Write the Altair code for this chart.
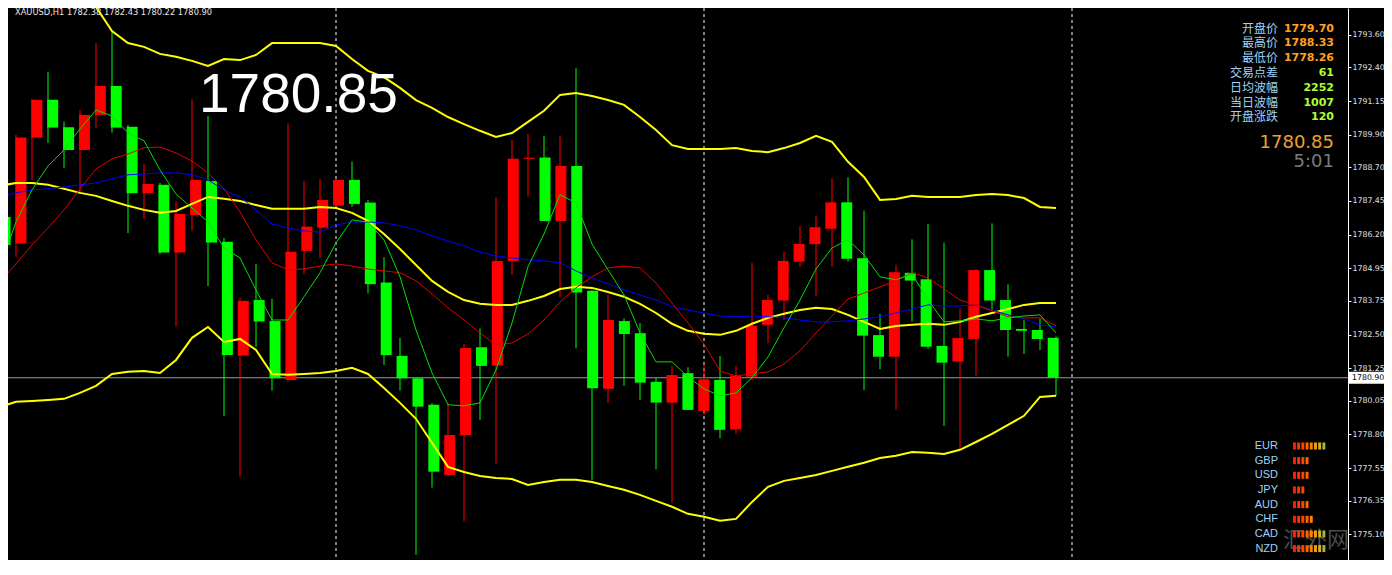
import altair as alt
import pandas as pd

# ---------------- data (XAUUSD H1) ----------------
opens = [1786.86, 1785.87, 1789.80, 1791.20, 1790.18, 1789.34, 1790.64, 1791.71, 1790.20, 1787.74,
         1788.05, 1785.54, 1786.93, 1788.19, 1785.94, 1781.72, 1783.78, 1783.00, 1780.82, 1785.60,
         1786.46, 1787.28, 1788.23, 1787.39, 1784.43, 1781.71, 1780.88, 1779.90, 1777.30, 1778.78,
         1782.03, 1781.35, 1785.23, 1789.01, 1789.06, 1786.71, 1788.75, 1784.12, 1780.49, 1783.00,
         1782.55, 1780.75, 1779.98, 1781.07, 1779.67, 1780.82, 1778.99, 1780.94, 1782.86, 1783.76,
         1785.20, 1785.85, 1786.42, 1787.40, 1785.33, 1782.48, 1781.68, 1784.79, 1784.55, 1782.08,
         1781.50, 1782.34, 1784.89, 1783.78, 1782.71, 1782.67, 1782.38]
highs = [1787.12, 1789.90, 1791.23, 1792.24, 1790.39, 1790.82, 1793.30, 1793.73, 1790.27, 1788.82,
         1788.12, 1787.43, 1791.22, 1790.60, 1786.08, 1783.86, 1785.12, 1783.82, 1790.33, 1788.20,
         1788.26, 1788.26, 1788.91, 1787.49, 1785.37, 1782.37, 1780.90, 1779.96, 1779.98, 1782.15,
         1782.73, 1787.57, 1789.71, 1789.93, 1789.86, 1789.86, 1792.37, 1784.15, 1783.97, 1783.10,
         1782.92, 1780.92, 1781.34, 1781.29, 1781.40, 1781.71, 1781.34, 1785.16, 1783.97, 1785.57,
         1786.53, 1786.90, 1788.29, 1788.33, 1787.09, 1783.26, 1785.08, 1786.03, 1786.60, 1785.91,
         1783.47, 1784.93, 1786.62, 1784.36, 1783.04, 1783.10, 1782.43]
lows = [1785.01, 1785.38, 1788.23, 1789.60, 1788.68, 1787.75, 1790.16, 1789.98, 1786.26, 1786.79,
        1785.49, 1782.80, 1786.35, 1784.30, 1779.48, 1777.23, 1782.05, 1780.42, 1780.75, 1784.75,
        1785.33, 1787.23, 1787.23, 1784.03, 1781.38, 1780.42, 1774.34, 1776.83, 1777.26, 1775.57,
        1779.34, 1777.71, 1784.71, 1787.61, 1786.71, 1783.88, 1781.99, 1777.12, 1779.96, 1780.60,
        1780.08, 1777.51, 1776.27, 1779.71, 1779.52, 1778.66, 1778.82, 1780.82, 1782.18, 1783.04,
        1785.00, 1783.91, 1785.02, 1785.20, 1780.45, 1781.22, 1779.71, 1782.98, 1781.97, 1779.11,
        1778.26, 1780.97, 1783.41, 1781.68, 1781.78, 1781.93, 1780.22]
closes = [1785.82, 1789.80, 1791.20, 1790.17, 1789.34, 1790.64, 1791.71, 1790.17, 1787.74, 1788.08,
          1785.54, 1786.97, 1788.23, 1785.91, 1781.74, 1783.75, 1782.98, 1780.88, 1785.57, 1786.50,
          1787.49, 1788.23, 1787.34, 1784.37, 1781.74, 1780.88, 1779.83, 1777.42, 1778.78, 1782.00,
          1781.34, 1785.23, 1789.01, 1789.05, 1786.71, 1788.75, 1784.06, 1780.51, 1783.04, 1782.52,
          1780.72, 1779.98, 1781.00, 1779.71, 1780.84, 1778.97, 1780.97, 1782.83, 1783.78, 1785.23,
          1785.86, 1786.48, 1787.40, 1785.31, 1782.46, 1781.68, 1784.81, 1784.50, 1782.05, 1781.46,
          1782.37, 1784.89, 1783.76, 1782.67, 1782.64, 1782.34, 1780.90]

bb_upper = [None, None, None, None, 1796.38, 1795.45, 1794.64, 1793.75, 1793.30, 1793.16,
            1792.90, 1792.79, 1792.64, 1792.45, 1792.71, 1792.67, 1792.86, 1793.30, 1793.30, 1793.30,
            1793.30, 1793.19, 1792.71, 1792.27, 1792.04, 1791.64, 1791.19, 1790.90, 1790.56, 1790.30,
            1790.05, 1789.82, 1789.97, 1790.38, 1790.79, 1791.38, 1791.45, 1791.34, 1791.19, 1791.01,
            1790.56, 1790.08, 1789.52, 1789.38, 1789.38, 1789.38, 1789.41, 1789.30, 1789.26, 1789.41,
            1789.60, 1789.86, 1789.64, 1788.90, 1788.34, 1787.49, 1787.52, 1787.64, 1787.60, 1787.60,
            1787.60, 1787.67, 1787.71, 1787.67, 1787.56, 1787.23, 1787.19]
bb_mid = [1788.01, 1788.12, 1788.12, 1788.05, 1787.90, 1787.75, 1787.64, 1787.45, 1787.27, 1787.12,
          1787.01, 1787.08, 1787.34, 1787.60, 1787.53, 1787.45, 1787.30, 1787.16, 1787.16, 1787.16,
          1787.23, 1787.19, 1787.01, 1786.71, 1786.23, 1785.67, 1785.08, 1784.49, 1784.08, 1783.78,
          1783.64, 1783.60, 1783.60, 1783.75, 1783.93, 1784.19, 1784.27, 1784.23, 1784.08, 1783.90,
          1783.64, 1783.30, 1782.90, 1782.64, 1782.53, 1782.49, 1782.64, 1782.90, 1783.12, 1783.27,
          1783.41, 1783.49, 1783.45, 1783.23, 1782.97, 1782.71, 1782.82, 1782.86, 1782.90, 1782.86,
          1782.97, 1783.16, 1783.30, 1783.45, 1783.60, 1783.67, 1783.67]
bb_lower = [1779.82, 1780.01, 1780.04, 1780.08, 1780.12, 1780.34, 1780.60, 1781.04, 1781.12, 1781.15,
            1781.08, 1781.56, 1782.38, 1782.78, 1782.23, 1782.34, 1781.93, 1781.04, 1781.01, 1781.04,
            1781.08, 1781.15, 1781.27, 1781.04, 1780.52, 1779.97, 1779.38, 1778.49, 1777.60, 1777.41,
            1777.26, 1777.19, 1777.15, 1776.93, 1777.04, 1777.12, 1777.12, 1777.04, 1776.89, 1776.75,
            1776.56, 1776.34, 1776.12, 1775.86, 1775.75, 1775.60, 1775.67, 1776.30, 1776.86, 1777.08,
            1777.19, 1777.30, 1777.45, 1777.60, 1777.75, 1777.93, 1778.01, 1778.15, 1778.12, 1778.08,
            1778.23, 1778.52, 1778.82, 1779.15, 1779.49, 1780.19, 1780.23]
ma_blue = [1787.60, 1787.75, 1787.86, 1787.90, 1787.97, 1788.05, 1788.12, 1788.27, 1788.42, 1788.45,
           1788.49, 1788.49, 1788.42, 1788.23, 1787.86, 1787.60, 1787.12, 1786.60, 1786.45, 1786.34,
           1786.30, 1786.56, 1786.67, 1786.67, 1786.64, 1786.53, 1786.38, 1786.16, 1785.97, 1785.79,
           1785.56, 1785.41, 1785.34, 1785.27, 1785.23, 1785.16, 1784.86, 1784.60, 1784.38, 1784.16,
           1783.97, 1783.78, 1783.53, 1783.41, 1783.30, 1783.19, 1783.16, 1783.19, 1783.16, 1783.12,
           1783.04, 1782.97, 1782.97, 1783.01, 1783.08, 1783.16, 1783.30, 1783.45, 1783.60, 1783.56,
           1783.56, 1783.60, 1783.41, 1783.23, 1783.08, 1782.86, 1782.78]
ma_red = [1784.45, 1785.12, 1785.82, 1786.45, 1787.12, 1787.90, 1788.64, 1789.01, 1789.19, 1789.42,
          1789.45, 1789.23, 1788.93, 1788.49, 1787.90, 1787.05, 1786.01, 1785.16, 1784.90, 1784.93,
          1785.04, 1785.12, 1785.04, 1784.93, 1784.86, 1784.79, 1784.49, 1784.01, 1783.49, 1783.04,
          1782.56, 1782.12, 1782.19, 1782.52, 1783.04, 1783.71, 1784.23, 1784.64, 1784.97, 1785.04,
          1784.97, 1784.41, 1783.67, 1782.93, 1782.15, 1781.15, 1780.97, 1781.04, 1781.12, 1781.41,
          1781.90, 1782.56, 1783.19, 1783.82, 1784.04, 1784.27, 1784.49, 1784.79, 1784.60, 1784.19,
          1783.78, 1783.60, 1783.38, 1783.16, 1783.12, 1783.12, 1782.82]
ma_green = [1785.01, 1786.67, 1787.86, 1788.75, 1789.34, 1790.12, 1790.82, 1790.60, 1789.97, 1789.68,
            1788.60, 1787.71, 1787.19, 1786.67, 1785.71, 1785.34, 1784.15, 1783.04, 1783.04, 1783.90,
            1784.79, 1785.90, 1786.75, 1786.67, 1786.01, 1784.64, 1782.67, 1781.08, 1779.90, 1779.86,
            1779.97, 1781.19, 1782.93, 1785.01, 1786.23, 1787.68, 1787.38, 1785.86, 1784.90, 1783.97,
            1782.56, 1781.49, 1781.49, 1780.93, 1780.49, 1780.23, 1780.34, 1780.90, 1781.67, 1782.75,
            1783.78, 1784.93, 1785.71, 1786.01, 1785.45, 1784.64, 1784.53, 1784.75, 1783.78, 1782.97,
            1783.01, 1783.08, 1783.01, 1783.12, 1783.19, 1783.23, 1782.56]

separators = [21, 44, 67]
y_ticks = [1793.60, 1792.40, 1791.15, 1789.90, 1788.70, 1787.45, 1786.20, 1784.95, 1783.75,
           1782.50, 1781.25, 1780.05, 1778.80, 1777.55, 1776.35, 1775.10, 1773.90]

header = "XAUUSD,H1  1782.38 1782.43 1780.22 1780.90"
bid = "1780.85"
last_price = 1780.90
countdown = "5:01"
info_labels = ["开盘价", "最高价", "最低价", "交易点差", "日均波幅", "当日波幅", "开盘涨跌"]
info_values = ["1779.70", "1788.33", "1778.26", "61", "2252", "1007", "120"]
info_colors = ["#FFA020", "#FFA020", "#FFA020", "#ADFF2F", "#ADFF2F", "#ADFF2F", "#ADFF2F"]
currencies = ["EUR", "GBP", "USD", "JPY", "AUD", "CHF", "CAD", "NZD"]
strength = [8, 4, 4, 3, 4, 5, 8, 8]
strength_colors = ["#ff1e00", "#ff3200", "#ff4600", "#ff6400", "#ff8200", "#f0a000", "#d2b428", "#a8b43c"]
watermark = "汇外网"

# ---------------- layout ----------------
PW, PH = 1340, 552          # plot area (16 px per bar)

n = len(opens)
bars = pd.DataFrame({"k": list(range(n)), "open": opens, "high": highs, "low": lows, "close": closes})
bars["dir"] = ["up" if c >= o else "down" for o, c in zip(opens, closes)]
lines = pd.DataFrame({"k": list(range(n)), "bb_upper": bb_upper, "bb_mid": bb_mid, "bb_lower": bb_lower,
                      "ma_blue": ma_blue, "ma_red": ma_red, "ma_green": ma_green})

xs = alt.Scale(domain=[0.5, 0.5 + PW / 16], nice=False, zero=False)
ys = alt.Scale(domain=[1774.148, 1794.60], nice=False, zero=False)
X = alt.X("k:Q", scale=xs, axis=None)
candle_color = alt.Color("dir:N", scale=alt.Scale(domain=["up", "down"], range=["#FF0000", "#00FF00"]), legend=None)


def one(s):
    return pd.DataFrame({"t": [s]})


layers = []
layers.append(alt.Chart(one("p")).mark_rule(color="#9a9a9a", strokeWidth=1).encode(
    y=alt.YDatum(last_price, scale=ys, axis=None)))
layers.append(alt.Chart(pd.DataFrame({"k": separators})).mark_rule(
    color="#ffffff", strokeDash=[3, 3], strokeWidth=1, clip=True).encode(x=X))
layers.append(alt.Chart(one(watermark)).mark_text(
    font="Noto Sans CJK SC", fontSize=22, color="#8a8a8a", opacity=0.55, align="center", baseline="middle"
).encode(x=alt.value(1308), y=alt.value(532), text="t:N"))

layers.append(alt.Chart(bars).mark_rule(strokeWidth=1, clip=True).encode(
    x=X,
    y=alt.Y("low:Q", scale=ys, title=None,
            axis=alt.Axis(orient="right", values=y_ticks, format=".2f", tickSize=3, labelPadding=1,
                          labelFlush=False, labelOverlap=False, grid=False)),
    y2="high:Q", color=candle_color))
layers.append(alt.Chart(bars).mark_bar(size=11, clip=True).encode(
    x=X, y=alt.Y("open:Q", scale=ys, axis=None), y2="close:Q", color=candle_color))


def line(col, color, width):
    return alt.Chart(lines).mark_line(color=color, strokeWidth=width, clip=True).encode(
        x=X, y=alt.Y(f"{col}:Q", scale=ys, axis=None))


layers += [line("bb_upper", "#FFFF00", 2), line("bb_mid", "#FFFF00", 2), line("bb_lower", "#FFFF00", 2),
           line("ma_blue", "#0000FF", 1), line("ma_red", "#E00000", 1), line("ma_green", "#00E000", 1)]

layers.append(alt.Chart(one("b")).mark_rect(color="#ffffff").encode(
    x=alt.value(PW + 1), x2=alt.value(PW + 36),
    y=alt.YDatum(last_price + 0.22, scale=ys, axis=None), y2=alt.Y2Datum(last_price - 0.22)))
layers.append(alt.Chart(one(f"{last_price:.2f}")).mark_text(
    font="DejaVu Sans", fontSize=7.8, color="#000000", align="left", baseline="middle").encode(
    x=alt.value(PW + 4), y=alt.YDatum(last_price, scale=ys, axis=None), text="t:N"))

layers.append(alt.Chart(one(header)).mark_text(
    font="DejaVu Sans", fontSize=8.3, color="#e8e8e8", align="left", baseline="middle").encode(
    x=alt.value(7), y=alt.value(5), text="t:N"))
layers.append(alt.Chart(one(bid)).mark_text(
    font="Liberation Sans", fontSize=55, color="#ffffff", align="left", baseline="alphabetic").encode(
    x=alt.value(191), y=alt.value(104), text="t:N"))

for i, (lab, val, col) in enumerate(zip(info_labels, info_values, info_colors)):
    yy = 20.5 + 14.8 * i
    layers.append(alt.Chart(one(lab)).mark_text(
        font="Noto Sans CJK SC", fontSize=12, color="#9fd3f5", align="right", baseline="middle").encode(
        x=alt.value(1270), y=alt.value(yy), text="t:N"))
    layers.append(alt.Chart(one(val)).mark_text(
        font="DejaVu Sans", fontSize=11, fontWeight="bold", color=col, align="right", baseline="middle").encode(
        x=alt.value(1326), y=alt.value(yy), text="t:N"))
layers.append(alt.Chart(one(bid)).mark_text(
    font="DejaVu Sans", fontSize=18, color="#F0A030", align="right", baseline="middle").encode(
    x=alt.value(1326), y=alt.value(135), text="t:N"))
layers.append(alt.Chart(one(countdown)).mark_text(
    font="DejaVu Sans", fontSize=18, color="#7c7c7c", align="right", baseline="middle").encode(
    x=alt.value(1326), y=alt.value(154), text="t:N"))

# currency strength meter
srows = []
for i, (c, cnt) in enumerate(zip(currencies, strength)):
    for j in range(cnt):
        srows.append({"cur": c, "j": j, "j2": j + 0.7, "r1": i - 0.24, "r2": i + 0.24, "col": strength_colors[j]})
sdf = pd.DataFrame(srows)
sx = alt.Scale(domain=[0, 10], range=[1285, 1327], nice=False, zero=False)
sy = alt.Scale(domain=[0, 7], range=[438, 540.6], nice=False, zero=False)
layers.append(alt.Chart(sdf).mark_rect().encode(
    x=alt.X("j:Q", scale=sx, axis=None), x2="j2:Q",
    y=alt.Y("r1:Q", scale=sy, axis=None), y2="r2:Q",
    color=alt.Color("col:N", scale=None)))
layers.append(alt.Chart(pd.DataFrame({"cur": currencies, "row": list(range(len(currencies)))})).mark_text(
    font="Liberation Sans", fontSize=11, color="#9fd3f5", align="right", baseline="middle").encode(
    x=alt.value(1270), y=alt.Y("row:Q", scale=sy, axis=None), text="cur:N"))

chart = alt.layer(*layers).resolve_scale(
    x="independent", y="independent", color="independent"
).properties(
    width=PW, height=PH,
    padding={"left": 0, "top": 0, "right": 36, "bottom": 0},
    autosize=alt.AutoSizeParams(type="none"),
    background="#000000",
).configure_view(strokeWidth=0).configure_axis(
    labelFont="DejaVu Sans", labelFontSize=7.8, labelColor="#e0e0e0",
    domainColor="#ffffff", tickColor="#ffffff", domainWidth=1, tickWidth=1,
)

chart.save("out.html", embed_options={"renderer": "svg", "actions": False})
